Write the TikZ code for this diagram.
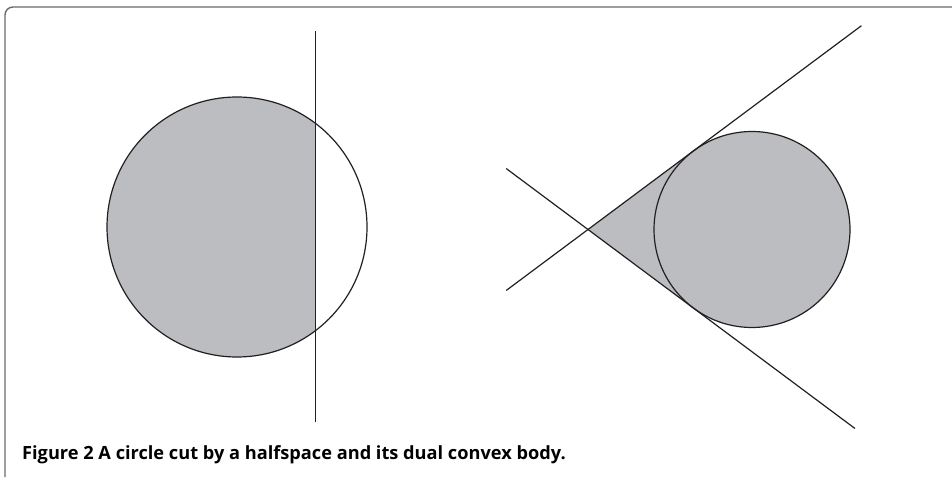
\documentclass[tikz,border=0pt]{standalone}
\usepackage{fontspec}
\setsansfont{Open Sans}
\usepackage{tikz}
\usetikzlibrary{calc}
\definecolor{BodyGrey}{HTML}{BCBDC0}
\definecolor{FrameGrey}{HTML}{6A6A6A}
\definecolor{InkBlack}{HTML}{231F20}
\tikzset{
    % Shape styles
    bodyfill/.style={
        fill=BodyGrey,
        draw=none
    },
    circleline/.style={
        draw=InkBlack,
        line width=1.2pt
    },
    cutline/.style={
        draw=InkBlack,
        line width=0.9pt
    },
    coneline/.style={
        draw=InkBlack,
        line width=1.2pt
    },
    % Frame and caption
    frameline/.style={
        draw=FrameGrey,
        line width=1.4pt,
        rounded corners=8pt
    },
    captiontext/.style={
        anchor=base west,
        inner sep=0pt,
        font=\sffamily\bfseries\fontsize{18.2}{21}\selectfont
    }
}
\begin{document}
\begin{tikzpicture}[x=1pt,y=1pt]
                \useasboundingbox (0,0) rectangle (952,477);

                % Frame
                \draw[frameline] (5,0) -- (5,470) -- (952,470);

                % Circle cut by a halfspace
                \coordinate (lctr) at (237,250);
                \coordinate (cuttop) at (315,446);
                \coordinate (cutbot) at (315,55);
                \begin{scope}
                    \clip (0,0) rectangle (315,477);
                    \fill[bodyfill] (lctr) circle[radius=130];
                \end{scope}
                \draw[circleline] (lctr) circle[radius=130];
                \draw[cutline] (cutbot) -- (cuttop);

                % Dual convex body
                \coordinate (apex) at (588,247.5);
                \coordinate (rctr) at (752,247.5);
                \coordinate (tup) at ($(rctr)+(126.7:98)$);
                \coordinate (tdown) at ($(rctr)+(-126.7:98)$);
                \fill[bodyfill] (apex) -- (tup) arc[start angle=126.7, end angle=-126.7, radius=98] -- cycle;
                \draw[circleline] (rctr) circle[radius=98];

                % Tangent lines through the apex
                \coordinate (upstart) at ($(apex)+(36.7:-102)$);
                \coordinate (upend) at ($(apex)+(36.7:341)$);
                \coordinate (downstart) at ($(apex)+(-36.7:-102)$);
                \coordinate (downend) at ($(apex)+(-36.7:333)$);
                \draw[coneline] (upstart) -- (upend);
                \draw[coneline] (downstart) -- (downend);

                % Caption
                \node[captiontext] (caption) at (22,18) {Figure 2 A circle cut by a halfspace and its dual convex body.};
            \end{tikzpicture}
\end{document}
